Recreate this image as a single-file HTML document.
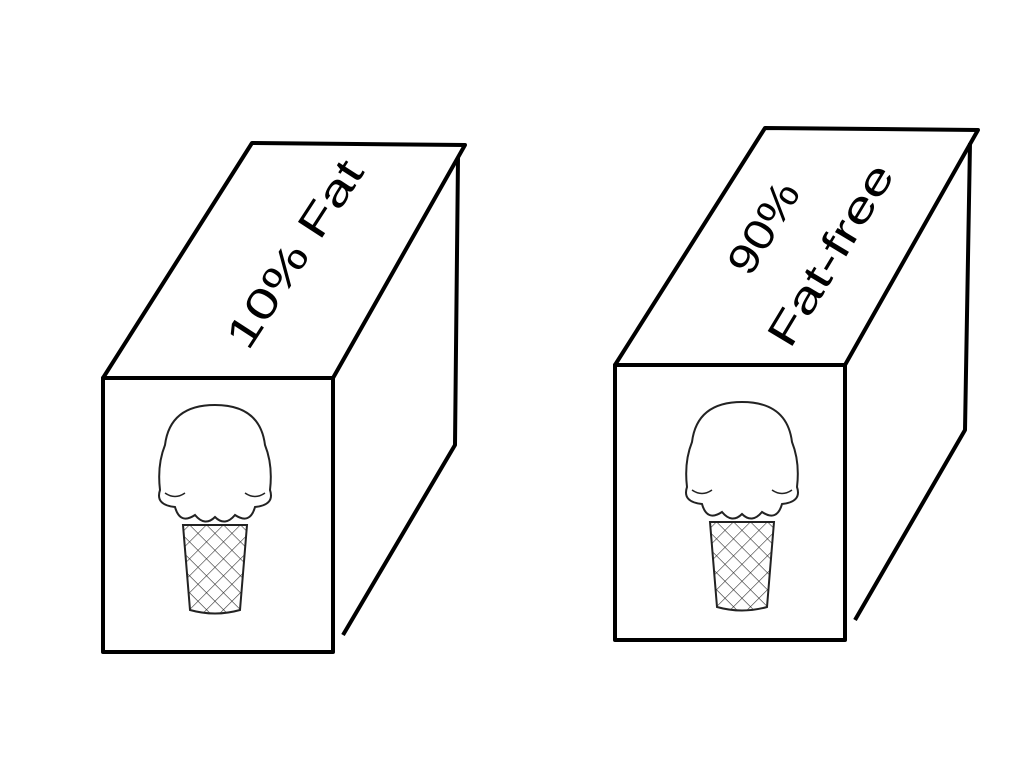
<!DOCTYPE html>
<html><head><meta charset="utf-8"><style>
html,body{margin:0;padding:0;background:#fff;}
svg{display:block;}
text{font-family:"Liberation Sans","DejaVu Sans",sans-serif;fill:#000;}
</style></head><body>
<svg width="1024" height="768" viewBox="0 0 1024 768">
<defs>
<pattern id="wafflePat" width="12" height="12" patternUnits="userSpaceOnUse" patternTransform="rotate(45)">
<path d="M0 0 H12 M0 0 V12" stroke="#333" stroke-width="1.2" fill="none"/>
</pattern>
<g id="cone">
<path d="M-32 60 L-25 145 Q0 152 25 145 L32 60 Z" fill="url(#wafflePat)" stroke="#222" stroke-width="2"/>
<path d="M-40 42 Q-60 40 -55 25 Q-58 0 -50 -20 Q-45 -60 0 -60 Q45 -60 50 -20 Q58 0 55 25 Q60 40 40 42 Q35 60 20 50 Q10 62 0 52 Q-10 62 -20 50 Q-35 60 -40 42 Z" fill="#fff" stroke="#222" stroke-width="2"/>
<path d="M-50 28 Q-40 35 -30 28 M30 28 Q40 35 50 28" stroke="#222" stroke-width="1.5" fill="none"/>
</g>
</defs>
<g fill="none" stroke="#000" stroke-width="4" stroke-linejoin="round">
<path d="M103 378 L252 143 L465 145 L333 378 Z"/>
<rect x="103" y="378" width="230" height="274"/>
<path d="M458 158 L455 445 L343 635"/>
</g>
<use href="#cone" x="215" y="465"/>
<text transform="translate(248,352) rotate(-57)" font-size="42" textLength="215" lengthAdjust="spacingAndGlyphs">10% Fat</text>
<g fill="none" stroke="#000" stroke-width="4" stroke-linejoin="round">
<path d="M615 365 L765 128 L978 130 L845 365 Z"/>
<rect x="615" y="365" width="230" height="275"/>
<path d="M970 143 L965 430 L855 620"/>
</g>
<use href="#cone" x="742" y="462"/>
<text transform="translate(750,278) rotate(-59)" font-size="42" textLength="100" lengthAdjust="spacingAndGlyphs">90%</text>
<text transform="translate(790,350) rotate(-59)" font-size="42" textLength="205" lengthAdjust="spacingAndGlyphs">Fat-free</text>
</svg>
</body></html>
